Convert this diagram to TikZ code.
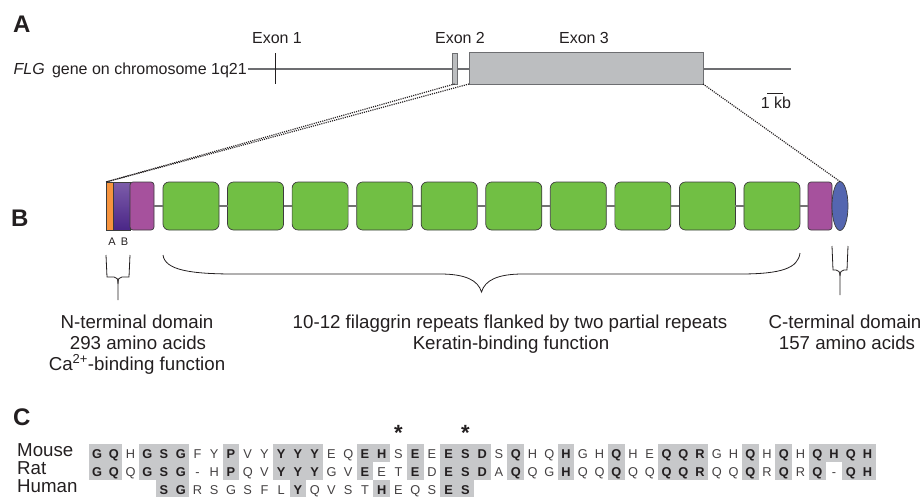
\documentclass[tikz,border=0pt]{standalone}
\usepackage{fontspec}
\setmainfont{Liberation Sans}
\usetikzlibrary{shapes.geometric}
\definecolor{ink}{HTML}{231F20}
\definecolor{outl}{HTML}{3C3C3C}
\definecolor{geneline}{HTML}{6D6E71}
\definecolor{exongray}{HTML}{BCBEC0}
\definecolor{orng}{HTML}{F7943E}
\definecolor{purA}{HTML}{7D5DAA}
\definecolor{purB}{HTML}{4A2687}
\definecolor{magn}{HTML}{A6519D}
\definecolor{grn}{HTML}{71BF44}
\definecolor{blu}{HTML}{5466B0}
\definecolor{shd}{HTML}{C7C8CA}
\begin{document}
\begin{tikzpicture}[x=1pt,y=-1pt,
  panel/.style={font=\fontsize{24}{28}\selectfont\bfseries, anchor=base west, inner sep=0, text=ink},
  txtA/.style={font=\fontsize{16}{19}\selectfont, anchor=base, inner sep=0, text=ink},
  txtB/.style={font=\fontsize{18.7}{22}\selectfont, anchor=base, inner sep=0, text=ink},
  txtS/.style={font=\fontsize{11}{13}\selectfont, anchor=base, inner sep=0, text=ink},
  seqn/.style={font=\fontsize{12.8}{14}\selectfont, anchor=base, inner sep=0, text=ink!85},
  seqb/.style={font=\fontsize{12.8}{14}\selectfont\bfseries, anchor=base, inner sep=0, text=ink},
  dombox/.style={draw=outl, line width=0.7pt, inner sep=0, outer sep=0},
  link/.style={draw=gray!90!black, line width=1.4pt},
  dots/.style={dash pattern=on 1.1pt off 1.1pt, line width=1.2pt, ink},
  brk/.style={line width=0.8pt, ink},
  starlbl/.style={font=\fontsize{22}{22}\selectfont\bfseries, anchor=base, inner sep=0, text=ink}
]
\useasboundingbox (0,0) rectangle (924,496);

% ---------------- Panel A ----------------
\node[panel] (labA) at (13,32) {A};
\node[txtA, anchor=base east] (flg) at (247,74) {\textit{FLG}\hspace{0.45em}gene on chromosome 1q21};
\coordinate (gl) at (248,69);
\coordinate (gr) at (791,69);
\draw[geneline, line width=1.1pt] (gl) -- (gr);
\coordinate (e1t) at (275,53);
\coordinate (e1b) at (275,84);
\draw[ink, line width=0.9pt] (e1t) -- (e1b);
\node[draw=geneline, fill=exongray, line width=0.8pt, inner sep=0, outer sep=0, minimum width=5, minimum height=31] (ex2) at (454.5,68.5) {};
\node[draw=geneline, fill=exongray, line width=1pt, inner sep=0, outer sep=0, minimum width=234, minimum height=32] (ex3) at (586,68) {};
\node[txtA] (lex1) at (277,43) {Exon 1};
\node[txtA] (lex2) at (460,43) {Exon 2};
\node[txtA] (lex3) at (584,43) {Exon 3};
\node[txtA] (kb) at (776,108) {1 kb};
\coordinate (kbl) at (767,93);
\coordinate (kbr) at (783,93);
\draw[ink, line width=0.9pt] (kbl) -- (kbr);

% ---------------- Panel B ----------------
\node[panel] (labB) at (11,226) {B};
\node[dombox, fill=orng, minimum width=7, minimum height=48] (or) at (109.5,206) {};
\node[dombox, top color=purA, bottom color=purB, minimum width=17, minimum height=48] (pu) at (121.5,206) {};
\node[dombox, fill=magn, rounded corners=3pt, minimum width=24, minimum height=48] (nm) at (142,206) {};
\foreach \k in {0,...,9}
  \node[dombox, fill=grn, rounded corners=6pt, minimum width=56, minimum height=48] (g\k) at ({191+\k*64.55},206) {};
\node[dombox, fill=magn, rounded corners=3pt, minimum width=24, minimum height=48] (cm) at (820,206) {};
\node[dombox, ellipse, fill=blu, minimum width=16, minimum height=49] (el) at (840,206) {};
\draw[link] (nm.east) -- (g0.west);
\foreach \k [evaluate=\k as \kk using int(\k+1)] in {0,...,8}
  \draw[link] (g\k.east) -- (g\kk.west);
\draw[link] (g9.east) -- (cm.west);

\draw[dots] (ex2.south) -- (or.north west);
\draw[dots] (ex3.south west) -- (or.north west);
\draw[dots] (ex3.south east) -- (el.north);

\node[txtS] (la) at (112,245) {A};
\node[txtS] (lb) at (124.5,245) {B};

% N-terminal bracket
\draw[brk] (106,255) -- (107,277) -- (114,277) .. controls (117,277) and (118,279) .. (118,284) -- (118,300);
\draw[brk] (130,255) -- (129,277) -- (122,277) .. controls (119,277) and (118,279) .. (118,284);
% C-terminal bracket
\draw[brk] (832,246) -- (833,270) -- (836,270) .. controls (838.5,270) and (840,272) .. (840,276) -- (840,295);
\draw[brk] (848,246) -- (847,270) -- (844,270) .. controls (841.5,270) and (840,272) .. (840,276);
% big brace
\draw[brk] (163,255) .. controls (165,270) and (190,274) .. (235,274) -- (440,274)
  .. controls (465,274) and (478,280) .. (481.5,292)
  .. controls (485,280) and (498,274) .. (523,274) -- (740,274)
  .. controls (782,274) and (798,268) .. (800,253);

\node[txtB] (n1) at (137,328) {N-terminal domain};
\node[txtB] (n2) at (138,349) {293 amino acids};
\node[txtB] (n3) at (137,370) {Ca\textsuperscript{\fontsize{13}{13}\selectfont 2+}-binding function};
\node[txtB] (r1) at (510,328) {10-12 filaggrin repeats flanked by two partial repeats};
\node[txtB] (r2) at (511,349) {Keratin-binding function};
\node[txtB] (c1) at (845,328) {C-terminal domain};
\node[txtB] (c2) at (847,349) {157 amino acids};

% ---------------- Panel C ----------------
\node[panel] (labC) at (13,425) {C};
\node[txtB, anchor=base west] (sp1) at (17,456) {Mouse};
\node[txtB, anchor=base west] (sp2) at (17,474.5) {Rat};
\node[txtB, anchor=base west] (sp3) at (17,492.5) {Human};

\foreach \l/\s [count=\i] in {G/1,Q/1,H/0,G/1,S/1,G/1,F/0,Y/0,P/1,V/0,Y/0,Y/1,Y/1,Y/1,E/0,Q/0,E/1,H/1,S/0,E/1,E/0,E/1,S/1,D/1,S/0,Q/1,H/0,Q/0,H/1,G/0,H/0,Q/1,H/0,E/0,Q/1,Q/1,R/1,G/0,H/0,Q/1,H/0,Q/1,H/0,Q/1,H/1,Q/1,H/1}{
  \pgfmathsetmacro\cx{97+(\i-1)*16.75}
  \ifnum\s=1
    \fill[shd] (\cx-8.45,444) rectangle (\cx+8.45,462.2);
    \node[seqb] (m\i) at (\cx,458) {\l};
  \else
    \node[seqn] (m\i) at (\cx,458) {\l};
  \fi
}
\foreach \l/\s [count=\i] in {G/1,Q/1,Q/0,G/1,S/1,G/1,-/0,H/0,P/1,Q/0,V/0,Y/1,Y/1,Y/1,G/0,V/0,E/1,E/0,T/0,E/1,D/0,E/1,S/1,D/1,A/0,Q/1,Q/0,G/0,H/1,Q/0,Q/0,Q/1,Q/0,Q/0,Q/1,Q/1,R/1,Q/0,Q/0,Q/1,R/0,Q/1,R/0,Q/1,-/0,Q/1,H/1}{
  \pgfmathsetmacro\cx{97+(\i-1)*16.75}
  \ifnum\s=1
    \fill[shd] (\cx-8.45,462) rectangle (\cx+8.45,480.2);
    \node[seqb] (r\i) at (\cx,476.5) {\l};
  \else
    \node[seqn] (r\i) at (\cx,476.5) {\l};
  \fi
}
\foreach \l/\s [count=\i from 5] in {S/1,G/1,R/0,S/0,G/0,S/0,F/0,L/0,Y/1,Q/0,V/0,S/0,T/0,H/1,E/0,Q/0,S/0,E/1,S/1}{
  \pgfmathsetmacro\cx{97+(\i-1)*16.75}
  \ifnum\s=1
    \fill[shd] (\cx-8.45,480) rectangle (\cx+8.45,498);
    \node[seqb] (h\i) at (\cx,494) {\l};
  \else
    \node[seqn] (h\i) at (\cx,494) {\l};
  \fi
}
\node[starlbl] (st1) at (398.5,440) {*};
\node[starlbl] (st2) at (465.5,440) {*};
\end{tikzpicture}
\end{document}
